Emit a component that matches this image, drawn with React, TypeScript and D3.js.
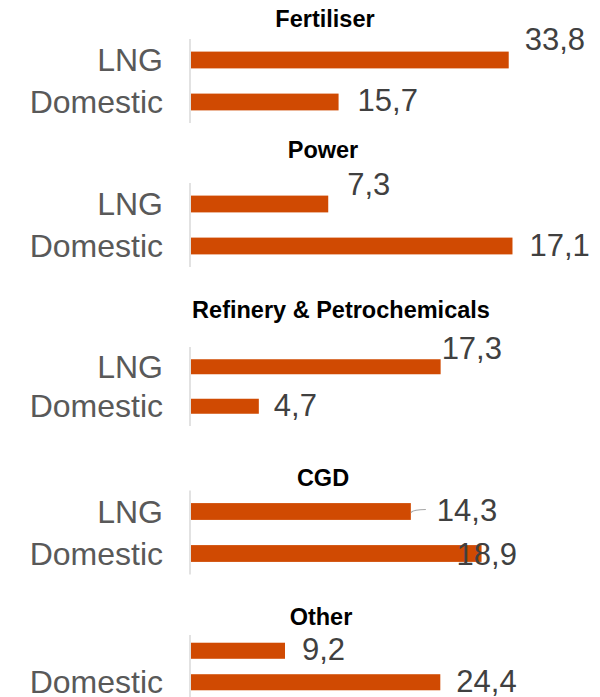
import React, { useEffect, useRef } from 'react';
import * as d3 from 'd3';

// one small bar chart per consumer sector
const sectors = ['Fertiliser', 'Power', 'Refinery & Petrochemicals', 'CGD', 'Other'];
const sources = ['LNG', 'Domestic'];
const lngValues = [33.8, 7.3, 17.3, 14.3, 9.2];
const domesticValues = [15.7, 17.1, 4.7, 18.9, 24.4];
// each panel was drawn with its own value axis
const axisMax = [35, 17.5, 22.8, 21.4, 32.2];

const WIDTH = 600;
const HEIGHT = 697;
const X0 = 191;
const X1 = 520;
const LABEL_X = 163;
const ORANGE = '#d04a02';
const FONT = "'Liberation Sans', Arial, sans-serif";

// panel placement: title centre/baseline, band range, band padding
const layout = [
  { titleX: 325, titleY: 27, top: 39, bottom: 123, pad: 0.6, hide: [] as string[] },
  { titleX: 323, titleY: 158, top: 183, bottom: 267, pad: 0.6, hide: [] },
  { titleX: 341, titleY: 318, top: 347, bottom: 426, pad: 0.62, hide: [] },
  { titleX: 323, titleY: 486, top: 490.5, bottom: 574.5, pad: 0.6, hide: [] },
  { titleX: 321, titleY: 625, top: 635, bottom: 698, pad: 0.49, hide: ['LNG'] },
];

// data label nudges [dx from bar end, dy from bar centre], LNG then Domestic
const nudges = [
  [[16, -10], [19, 9]],
  [[19, -9], [17, 10]],
  [[1, -8], [15, 9.5]],
  [[26, 9], [-25, 11]],
  [[17, 9.5], [16, 10]],
];

const locale = d3.formatLocale({ decimal: ',', thousands: '.', grouping: [3], currency: ['', ''] });
const fmt = locale.format('.1f');

const App = () => {
  const ref = useRef<SVGSVGElement | null>(null);

  useEffect(() => {
    if (!ref.current) return;
    const svg = d3.select(ref.current);
    svg.selectAll('*').remove();

    sectors.forEach((sector, i) => {
      const L = layout[i];
      const vals = [lngValues[i], domesticValues[i]];
      const g = svg.append('g');

      const x = d3.scaleLinear().domain([0, axisMax[i]]).range([X0, X1]);
      const y = d3.scaleBand<string>()
        .domain(sources)
        .range([L.top, L.bottom])
        .paddingInner(L.pad)
        .paddingOuter(L.pad / 2);

      g.append('text')
        .attr('x', L.titleX)
        .attr('y', L.titleY)
        .attr('text-anchor', 'middle')
        .style('font-family', FONT)
        .style('font-weight', 'bold')
        .style('font-size', '23.5px')
        .style('fill', '#000')
        .text(sector);

      g.append('line')
        .attr('x1', X0 - 1).attr('x2', X0 - 1)
        .attr('y1', L.top).attr('y2', L.bottom)
        .attr('stroke', '#d9d9d9')
        .attr('stroke-width', 1.5);

      g.selectAll('.cat')
        .data(sources.filter(s => !L.hide.includes(s)))
        .enter().append('text')
        .attr('x', LABEL_X)
        .attr('y', d => (y(d) as number) + y.bandwidth() / 2 + 11)
        .attr('text-anchor', 'end')
        .style('font-family', FONT)
        .style('font-size', '32px')
        .style('fill', '#595959')
        .text(d => d);

      g.selectAll('.bar')
        .data(vals)
        .enter().append('rect')
        .attr('x', x(0))
        .attr('y', (_, j) => y(sources[j]) as number)
        .attr('width', d => x(d) - x(0))
        .attr('height', y.bandwidth())
        .attr('fill', ORANGE);

      // leader line for the moved CGD LNG label
      if (sector === 'CGD') {
        const bx = x(lngValues[i]);
        const by = (y('LNG') as number) + y.bandwidth() / 2;
        g.append('path')
          .attr('d', `M${bx},${by + 1} Q${bx + 3},${by - 2} ${bx + 15},${by - 2}`)
          .attr('fill', 'none')
          .attr('stroke', '#a6a6a6')
          .attr('stroke-width', 1.2);
      }

      g.selectAll('.val')
        .data(vals)
        .enter().append('text')
        .attr('x', (d, j) => x(d) + nudges[i][j][0])
        .attr('y', (_, j) => (y(sources[j]) as number) + y.bandwidth() / 2 + nudges[i][j][1])
        .style('font-family', FONT)
        .style('font-size', '31px')
        .style('fill', '#404040')
        .text(d => fmt(d));
    });
  }, []);

  return (
    <svg
      ref={ref}
      width={WIDTH}
      height={HEIGHT}
      style={{ position: 'absolute', left: 0, top: 0, background: '#fff' }}
    ></svg>
  );
};

export default App;
